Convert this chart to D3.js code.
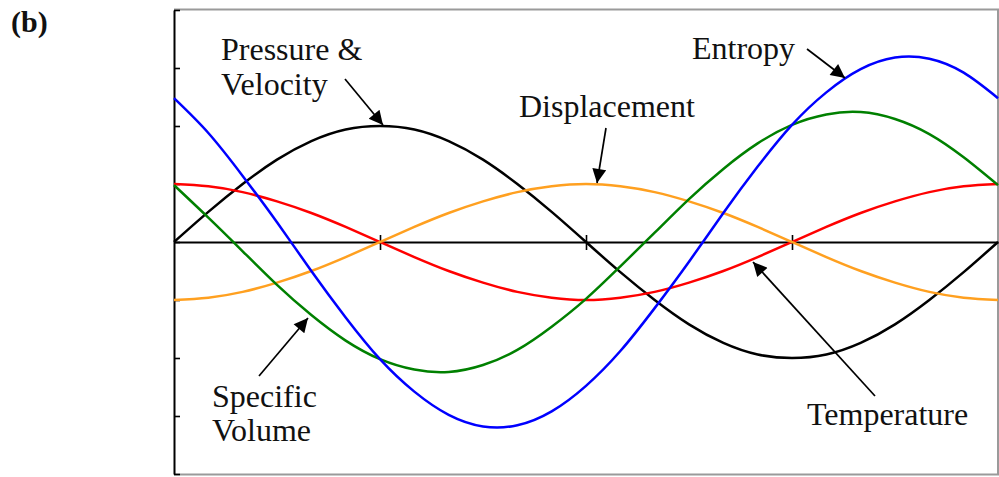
<!DOCTYPE html>
<html>
<head>
<meta charset="utf-8">
<script src="https://cdn.jsdelivr.net/npm/d3@7"></script>
<style>
  html, body { margin: 0; padding: 0; background: #fff; }
  svg { display: block; }
  text { font-family: "Liberation Serif", "Times New Roman", serif; fill: #111; }
</style>
</head>
<body>
<svg id="chart" width="999" height="477"></svg>
<script>
// Phase angle (degrees) over one full wavelength
const phase = [0, 15, 30, 45, 60, 75, 90, 105, 120, 135, 150, 165, 180,
               195, 210, 225, 240, 255, 270, 285, 300, 315, 330, 345, 360];

// Normalised oscillation amplitudes of each quantity
const pressureVelocity = [0, 0.26, 0.50, 0.71, 0.87, 0.97, 1.00, 0.97, 0.87, 0.71, 0.50, 0.26, 0,
                          -0.26, -0.50, -0.71, -0.87, -0.97, -1.00, -0.97, -0.87, -0.71, -0.50, -0.26, 0];
const temperature = [0.50, 0.48, 0.43, 0.35, 0.25, 0.13, 0, -0.13, -0.25, -0.35, -0.43, -0.48, -0.50,
                     -0.48, -0.43, -0.35, -0.25, -0.13, 0, 0.13, 0.25, 0.35, 0.43, 0.48, 0.50];
const displacement = [-0.50, -0.48, -0.43, -0.35, -0.25, -0.13, 0, 0.13, 0.25, 0.35, 0.43, 0.48, 0.50,
                      0.48, 0.43, 0.35, 0.25, 0.13, 0, -0.13, -0.25, -0.35, -0.43, -0.48, -0.50];
const specificVolume = [0.49, 0.21, -0.08, -0.37, -0.63, -0.85, -1.01, -1.10, -1.12, -1.06, -0.93, -0.73, -0.49,
                        -0.21, 0.08, 0.37, 0.63, 0.85, 1.01, 1.10, 1.12, 1.06, 0.93, 0.73, 0.49];
const entropy = [1.24, 0.94, 0.57, 0.17, -0.25, -0.65, -1.01, -1.29, -1.49, -1.59, -1.58, -1.46, -1.24,
                 -0.94, -0.57, -0.17, 0.25, 0.65, 1.01, 1.29, 1.49, 1.59, 1.58, 1.46, 1.24];

const yTicks = [-2, -1.5, -1, -0.5, 0, 0.5, 1, 1.5, 2];
const xTicks = [90, 180, 270];

const series = [
  { name: "Pressure & Velocity", values: pressureVelocity, color: "#000000" },
  { name: "Temperature", values: temperature, color: "#ff0000" },
  { name: "Displacement", values: displacement, color: "#ffa020" },
  { name: "Specific Volume", values: specificVolume, color: "#008000" },
  { name: "Entropy", values: entropy, color: "#0000ff" }
];

const svg = d3.select("#chart");
const plotLeft = 174, plotRight = 998, plotTop = 10, plotBottom = 474;

const x = d3.scaleLinear().domain([0, 360]).range([plotLeft, plotRight]);
const y = d3.scaleLinear().domain([-2, 2]).range([plotBottom, plotTop]);

// Grey frame (top, right, bottom)
svg.append("path")
  .attr("d", `M${plotLeft},${plotTop - 0.5}H${plotRight}V${plotBottom + 0.5}H${plotLeft}`)
  .attr("fill", "none")
  .attr("stroke", "#9a9a9a")
  .attr("stroke-width", 2);

// Left axis with inward ticks
const yAxis = svg.append("g")
  .attr("transform", `translate(${plotLeft},0)`)
  .call(d3.axisLeft(y).tickValues(yTicks).tickSizeInner(-6).tickSizeOuter(0).tickFormat(""));
yAxis.select(".domain").attr("stroke", "#000").attr("stroke-width", 2);
yAxis.selectAll(".tick line").attr("stroke", "#000").attr("stroke-width", 1.6);

// Zero line with crossing ticks
const xAxis = svg.append("g")
  .attr("transform", `translate(0,${y(0)})`)
  .call(d3.axisBottom(x).tickValues(xTicks).tickSizeOuter(0).tickFormat(""));
xAxis.select(".domain").attr("stroke", "#000").attr("stroke-width", 1.8);
xAxis.selectAll(".tick line").attr("y1", -7).attr("y2", 8).attr("stroke", "#000").attr("stroke-width", 1.6);

// Curves
const line = d3.line()
  .x((d, i) => x(phase[i]))
  .y(d => y(d))
  .curve(d3.curveNatural);

svg.append("g").selectAll("path")
  .data(series)
  .join("path")
  .attr("d", d => line(d.values))
  .attr("fill", "none")
  .attr("stroke", d => d.color)
  .attr("stroke-width", 2.5);

// Annotation arrows
svg.append("defs").append("marker")
  .attr("id", "head")
  .attr("viewBox", "0 0 10 10")
  .attr("refX", 10).attr("refY", 5)
  .attr("markerWidth", 17).attr("markerHeight", 14)
  .attr("markerUnits", "userSpaceOnUse")
  .attr("orient", "auto")
  .append("path")
  .attr("d", "M0,0L10,5L0,10Z")
  .attr("fill", "#000");

const arrows = [
  [345, 79, 383, 125],
  [259, 376, 308, 318],
  [606, 128, 597, 183],
  [807, 49, 845, 78],
  [875, 396, 753, 262]
];
svg.append("g").selectAll("line")
  .data(arrows)
  .join("line")
  .attr("x1", d => d[0]).attr("y1", d => d[1])
  .attr("x2", d => d[2]).attr("y2", d => d[3])
  .attr("stroke", "#000")
  .attr("stroke-width", 1.7)
  .attr("marker-end", "url(#head)");

// Labels
const labels = [
  { t: "Pressure &", x: 221, y: 60 },
  { t: "Velocity", x: 221, y: 95 },
  { t: "Displacement", x: 519, y: 117 },
  { t: "Entropy", x: 692, y: 59 },
  { t: "Specific", x: 212, y: 407 },
  { t: "Volume", x: 212, y: 441 },
  { t: "Temperature", x: 807, y: 425 }
];
svg.append("g").selectAll("text")
  .data(labels)
  .join("text")
  .attr("x", d => d.x).attr("y", d => d.y)
  .attr("font-size", 32)
  .text(d => d.t);

svg.append("text")
  .attr("x", 11).attr("y", 32)
  .attr("font-size", 30)
  .attr("font-weight", "bold")
  .text("(b)");
</script>
</body>
</html>
